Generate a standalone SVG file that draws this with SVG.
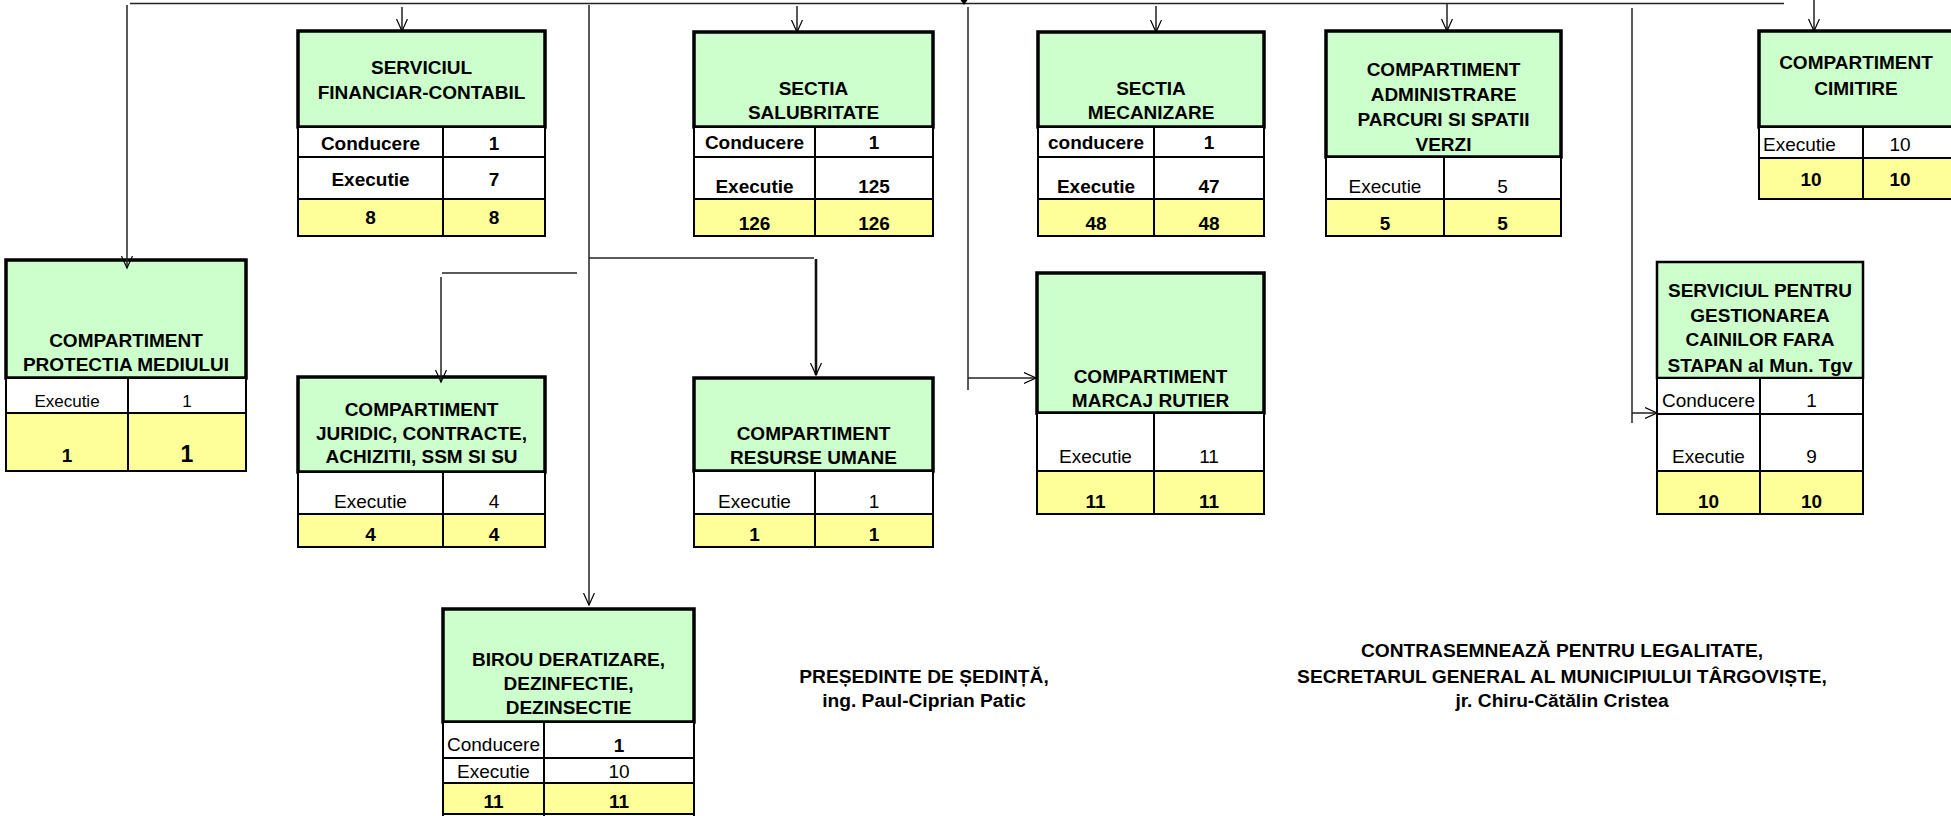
<svg xmlns="http://www.w3.org/2000/svg" width="1951" height="816" viewBox="0 0 1951 816">
<defs>
<style>
.h{fill:#CCFFCC;stroke:#000;stroke-width:3.5}
.c{fill:#FFFFFF;stroke:#000;stroke-width:2}
.y{fill:#FFFF99;stroke:#000;stroke-width:2}
text{font-family:"Liberation Sans",Arial,sans-serif;font-size:19px;text-anchor:middle;fill:#000}
.b{font-weight:bold}
.s{font-size:17px}
.L{text-anchor:start}
.g{font-size:19.2px}
.ln{stroke:#222;stroke-width:1.5;fill:none}
.lt{stroke:#111;stroke-width:2.6;fill:none}
</style>
<marker id="a" markerWidth="14" markerHeight="14" refX="12" refY="6" orient="auto" markerUnits="userSpaceOnUse">
<path d="M0,0.5 L12,6 L0,11.5" fill="none" stroke="#000" stroke-width="1.2"/>
</marker>
</defs>
<rect width="1951" height="816" fill="#FFFFFF"/>

<g id="n-financiar">
<rect class="h" x="298" y="31" width="247" height="96"/>
<rect class="c" x="298" y="127" width="145" height="30"/><rect class="c" x="443" y="127" width="102" height="30"/>
<rect class="c" x="298" y="157" width="145" height="42"/><rect class="c" x="443" y="157" width="102" height="42"/>
<rect class="y" x="298" y="199" width="145" height="37"/><rect class="y" x="443" y="199" width="102" height="37"/>
<text class="b" x="421.5" y="74">SERVICIUL</text>
<text class="b" x="421.5" y="99">FINANCIAR-CONTABIL</text>
<text class="b" x="370.5" y="150">Conducere</text><text class="b" x="494" y="150">1</text>
<text class="b" x="370.5" y="186">Executie</text><text class="b" x="494" y="186">7</text>
<text class="b" x="370.5" y="224">8</text><text class="b" x="494" y="224">8</text>
</g>

<g id="n-salubritate">
<rect class="h" x="694" y="32" width="239" height="95"/>
<rect class="c" x="694" y="127" width="121" height="30"/><rect class="c" x="815" y="127" width="118" height="30"/>
<rect class="c" x="694" y="157" width="121" height="42"/><rect class="c" x="815" y="157" width="118" height="42"/>
<rect class="y" x="694" y="199" width="121" height="37"/><rect class="y" x="815" y="199" width="118" height="37"/>
<text class="b" x="813.5" y="95">SECTIA</text>
<text class="b" x="813.5" y="119">SALUBRITATE</text>
<text class="b" x="754.5" y="149">Conducere</text><text class="b" x="874" y="149">1</text>
<text class="b" x="754.5" y="193">Executie</text><text class="b" x="874" y="193">125</text>
<text class="b" x="754.5" y="230">126</text><text class="b" x="874" y="230">126</text>
</g>

<g id="n-mecanizare">
<rect class="h" x="1038" y="32" width="226" height="95"/>
<rect class="c" x="1038" y="127" width="116" height="30"/><rect class="c" x="1154" y="127" width="110" height="30"/>
<rect class="c" x="1038" y="157" width="116" height="42"/><rect class="c" x="1154" y="157" width="110" height="42"/>
<rect class="y" x="1038" y="199" width="116" height="37"/><rect class="y" x="1154" y="199" width="110" height="37"/>
<text class="b" x="1151" y="95">SECTIA</text>
<text class="b" x="1151" y="119">MECANIZARE</text>
<text class="b" x="1096" y="149">conducere</text><text class="b" x="1209" y="149">1</text>
<text class="b" x="1096" y="193">Executie</text><text class="b" x="1209" y="193">47</text>
<text class="b" x="1096" y="230">48</text><text class="b" x="1209" y="230">48</text>
</g>

<g id="n-administrare">
<rect class="h" x="1326" y="31" width="235" height="126"/>
<rect class="c" x="1326" y="157" width="118" height="42"/><rect class="c" x="1444" y="157" width="117" height="42"/>
<rect class="y" x="1326" y="199" width="118" height="37"/><rect class="y" x="1444" y="199" width="117" height="37"/>
<text class="b" x="1443.5" y="76">COMPARTIMENT</text>
<text class="b" x="1443.5" y="101">ADMINISTRARE</text>
<text class="b" x="1443.5" y="126">PARCURI SI SPATII</text>
<text class="b" x="1443.5" y="151">VERZI</text>
<text x="1385" y="193">Executie</text><text x="1502.5" y="193">5</text>
<text class="b" x="1385" y="230">5</text><text class="b" x="1502.5" y="230">5</text>
</g>

<g id="n-cimitire">
<rect class="h" x="1759" y="31" width="194" height="96"/>
<rect class="c" x="1759" y="127" width="104" height="31"/><rect class="c" x="1863" y="127" width="90" height="31"/>
<rect class="y" x="1759" y="158" width="104" height="41"/><rect class="y" x="1863" y="158" width="90" height="41"/>
<text class="b" x="1856" y="69">COMPARTIMENT</text>
<text class="b" x="1856" y="95">CIMITIRE</text>
<text class="L" x="1763" y="151">Executie</text><text x="1900" y="151">10</text>
<text class="b" x="1811" y="186">10</text><text class="b" x="1900" y="186">10</text>
</g>

<g id="n-protectia">
<rect class="h" x="6" y="260" width="240" height="118"/>
<rect class="c" x="6" y="378" width="122" height="35"/><rect class="c" x="128" y="378" width="118" height="35"/>
<rect class="y" x="6" y="413" width="122" height="58"/><rect class="y" x="128" y="413" width="118" height="58"/>
<text class="b" x="126" y="347">COMPARTIMENT</text>
<text class="b" x="126" y="371">PROTECTIA MEDIULUI</text>
<text class="s" x="67" y="407">Executie</text><text class="s" x="187" y="407">1</text>
<text class="b" x="67" y="462">1</text><text class="b" x="187" y="462" style="font-size:23px">1</text>
</g>

<g id="n-juridic">
<rect class="h" x="298" y="377" width="247" height="95"/>
<rect class="c" x="298" y="472" width="145" height="42"/><rect class="c" x="443" y="472" width="102" height="42"/>
<rect class="y" x="298" y="514" width="145" height="33"/><rect class="y" x="443" y="514" width="102" height="33"/>
<text class="b" x="421.5" y="416">COMPARTIMENT</text>
<text class="b" x="421.5" y="440">JURIDIC, CONTRACTE,</text>
<text class="b" x="421.5" y="463">ACHIZITII, SSM SI SU</text>
<text x="370.5" y="508">Executie</text><text x="494" y="508">4</text>
<text class="b" x="370.5" y="541">4</text><text class="b" x="494" y="541">4</text>
</g>

<g id="n-resurse">
<rect class="h" x="694" y="378" width="239" height="93"/>
<rect class="c" x="694" y="471" width="121" height="43"/><rect class="c" x="815" y="471" width="118" height="43"/>
<rect class="y" x="694" y="514" width="121" height="33"/><rect class="y" x="815" y="514" width="118" height="33"/>
<text class="b" x="813.5" y="440">COMPARTIMENT</text>
<text class="b" x="813.5" y="464">RESURSE UMANE</text>
<text x="754.5" y="508">Executie</text><text x="874" y="508">1</text>
<text class="b" x="754.5" y="541">1</text><text class="b" x="874" y="541">1</text>
</g>

<g id="n-marcaj">
<rect class="h" x="1037" y="273" width="227" height="140"/>
<rect class="c" x="1037" y="413" width="117" height="58"/><rect class="c" x="1154" y="413" width="110" height="58"/>
<rect class="y" x="1037" y="471" width="117" height="43"/><rect class="y" x="1154" y="471" width="110" height="43"/>
<text class="b" x="1150.5" y="383">COMPARTIMENT</text>
<text class="b" x="1150.5" y="407">MARCAJ RUTIER</text>
<text x="1095.5" y="463">Executie</text><text x="1209" y="463">11</text>
<text class="b" x="1095.5" y="508">11</text><text class="b" x="1209" y="508">11</text>
</g>

<g id="n-caini">
<rect class="h" x="1657" y="262" width="206" height="116" style="stroke-width:2.5"/>
<rect class="c" x="1657" y="378" width="103" height="36"/><rect class="c" x="1760" y="378" width="103" height="36"/>
<rect class="c" x="1657" y="414" width="103" height="57"/><rect class="c" x="1760" y="414" width="103" height="57"/>
<rect class="y" x="1657" y="471" width="103" height="43"/><rect class="y" x="1760" y="471" width="103" height="43"/>
<text class="b" x="1760" y="297">SERVICIUL PENTRU</text>
<text class="b" x="1760" y="322">GESTIONAREA</text>
<text class="b" x="1760" y="346">CAINILOR FARA</text>
<text class="b" x="1760" y="372">STAPAN al Mun. Tgv</text>
<text x="1708.5" y="407">Conducere</text><text x="1811.5" y="407">1</text>
<text x="1708.5" y="463">Executie</text><text x="1811.5" y="463">9</text>
<text class="b" x="1708.5" y="508">10</text><text class="b" x="1811.5" y="508">10</text>
</g>

<g id="n-birou">
<rect class="h" x="443" y="609" width="251" height="113"/>
<rect class="c" x="443" y="722" width="101" height="36"/><rect class="c" x="544" y="722" width="150" height="36"/>
<rect class="c" x="443" y="758" width="101" height="25"/><rect class="c" x="544" y="758" width="150" height="25"/>
<rect class="y" x="443" y="783" width="101" height="31"/><rect class="y" x="544" y="783" width="150" height="31"/>
<path d="M443,814 V820 M544,814 V820 M694,814 V820" stroke="#000" stroke-width="2"/>
<text class="b" x="568.5" y="666">BIROU DERATIZARE,</text>
<text class="b" x="568.5" y="690">DEZINFECTIE,</text>
<text class="b" x="568.5" y="714">DEZINSECTIE</text>
<text x="493.5" y="751">Conducere</text><text class="b" x="619" y="752">1</text>
<text x="493.5" y="778">Executie</text><text x="619" y="778">10</text>
<text class="b" x="493.5" y="808">11</text><text class="b" x="619" y="808">11</text>
</g>

<g id="connectors">
<line class="ln" x1="130" y1="3.5" x2="1784" y2="3.5"/>
<polygon points="960.5,0 967.5,0 964,5" fill="#000"/>
<line class="ln" x1="127" y1="5" x2="127" y2="268" marker-end="url(#a)"/>
<line class="ln" x1="402" y1="7" x2="402" y2="31" marker-end="url(#a)"/>
<line class="ln" x1="589" y1="5" x2="589" y2="605" marker-end="url(#a)"/>
<line class="ln" x1="797" y1="6" x2="797" y2="32" marker-end="url(#a)"/>
<line class="ln" x1="968" y1="7" x2="968" y2="390"/>
<line class="ln" x1="968" y1="378" x2="1036" y2="378" marker-end="url(#a)"/>
<line class="ln" x1="1156" y1="6" x2="1156" y2="32" marker-end="url(#a)"/>
<line class="ln" x1="1447" y1="3" x2="1447" y2="31" marker-end="url(#a)"/>
<line class="ln" x1="1632" y1="8" x2="1632" y2="423"/>
<line class="ln" x1="1632" y1="413" x2="1657" y2="413" marker-end="url(#a)"/>
<line class="ln" x1="1814" y1="0" x2="1814" y2="31" marker-end="url(#a)"/>
<line class="ln" x1="442" y1="273" x2="577" y2="273"/>
<line class="ln" x1="441" y1="277" x2="441" y2="382" marker-end="url(#a)"/>
<line class="ln" x1="589" y1="258" x2="814" y2="258"/>
<line class="lt" x1="816" y1="259" x2="816" y2="375" marker-end="url(#a)"/>
</g>

<g id="signatures">
<text class="b g" x="924" y="683">PREȘEDINTE DE ȘEDINȚĂ,</text>
<text class="b g" x="924" y="707">ing. Paul-Ciprian Patic</text>
<text class="b g" x="1562" y="657">CONTRASEMNEAZĂ PENTRU LEGALITATE,</text>
<text class="b g" x="1562" y="683">SECRETARUL GENERAL AL MUNICIPIULUI TÂRGOVIȘTE,</text>
<text class="b g" x="1562" y="707">jr. Chiru-Cătălin Cristea</text>
</g>
</svg>
